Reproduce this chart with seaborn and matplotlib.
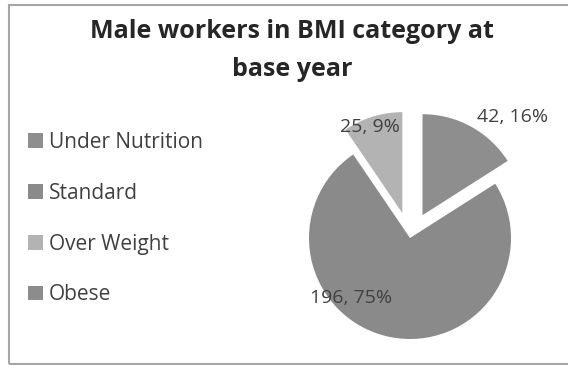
import matplotlib
matplotlib.use("Agg")
import matplotlib.pyplot as plt
import seaborn as sns
from matplotlib.patches import Rectangle

sns.set_theme(style="white")
plt.rcParams['font.family'] = ['Open Sans', 'DejaVu Sans']

categories = ["Under Nutrition", "Standard", "Over Weight", "Obese"]
values = [42, 196, 25, 0]
pct_labels = ["16%", "75%", "9%", ""]
colors = ["#8e8e8e", "#8a8a8a", "#b3b3b3", "#8c8c8c"]

W, H = 568, 365
fig = plt.figure(figsize=(W / 100, H / 100), dpi=100)
ax = fig.add_axes([0, 0, 1, 1])

cx, cy, r = 410, H - 238, 101
explode = [26, 0, 26, 0]  # pixel offsets
wedges, _ = ax.pie(values, colors=colors, explode=explode, startangle=90,
                   counterclock=False, radius=r, center=(cx, cy),
                   wedgeprops=dict(linewidth=0), frame=True)
ax.set_xlim(0, W)
ax.set_ylim(0, H)
ax.set_aspect('equal')
ax.axis('off')

# label placement (offsets from pie centre, pixels)
label_pos = {0: (103, 121), 1: (-59, -60), 2: (-40, 111)}
for i, (dx, dy) in label_pos.items():
    ax.text(cx + dx, cy + dy, f"{values[i]}, {pct_labels[i]}", ha='center', va='center',
            fontsize=14, color='#404040')

fig.text(292 / W, 1 - 31 / H, "Male workers in BMI category at", ha='center', va='center',
         fontsize=18, fontweight='bold', color='#262626')
fig.text(292 / W, 1 - 69 / H, "base year", ha='center', va='center',
         fontsize=18, fontweight='bold', color='#262626')

leg = ax.legend(wedges, categories, loc='upper left', bbox_to_anchor=(28 / W, 1 - 132 / H),
                bbox_transform=fig.transFigure,
                frameon=False, handlelength=0.7, handleheight=0.7, handletextpad=0.3,
                labelspacing=1.43, fontsize=15, borderaxespad=0, borderpad=0)
for t in leg.get_texts():
    t.set_color('#404040')

fig.add_artist(Rectangle((9 / W, 1 / H), 1.0, (H - 6) / H, transform=fig.transFigure,
                         fill=False, edgecolor='#a6a6a6', linewidth=1.5))

fig.savefig("out.png", dpi=100)
